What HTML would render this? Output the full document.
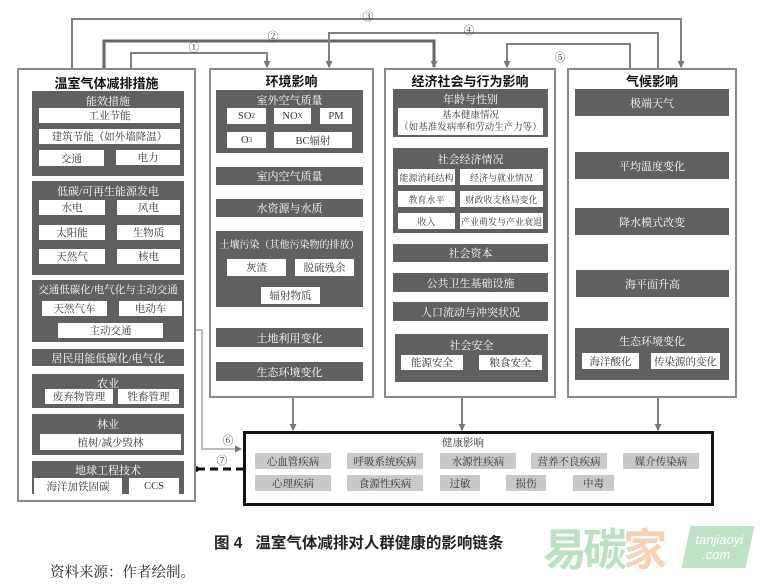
<!DOCTYPE html>
<html><head><meta charset="utf-8"><style>
body{margin:0;background:#fff;}
#c{position:relative;width:760px;height:586px;overflow:hidden;font-family:"Liberation Serif","Noto Serif CJK SC",serif;}
.a{position:absolute;box-sizing:border-box;display:flex;align-items:center;justify-content:center;text-align:center;white-space:nowrap;}
.box{border:2px solid #888;background:#fff;}
.p{background:#606060;color:#fff;font-size:11px;align-items:flex-start;padding-top:2px;}
.b{background:#606060;color:#fff;font-size:11px;}
.w{background:#fff;color:#333;font-size:10.5px;}
.g{background:#c9c9c9;color:#333;font-size:10.5px;}
.h{font-weight:bold;font-size:13px;color:#111;font-family:"Liberation Sans","Noto Sans CJK SC",sans-serif;}
.n{font-size:11px;color:#333;}
</style></head><body><div id="c">
<svg width="760" height="586" style="position:absolute;left:0;top:0">
<defs><marker id="ar" markerUnits="userSpaceOnUse" markerWidth="7" markerHeight="7" refX="6" refY="3.5" orient="auto"><path d="M0,0 L7,3.5 L0,7z" fill="#777"/></marker></defs>
<g fill="none" stroke="#808080" stroke-width="2">
<polyline points="72,68 72,19 681,19 681,67" marker-end="url(#ar)"/>
<polyline points="104,68 104,41 434,41 434,67" stroke="#666" stroke-width="3" marker-end="url(#ar)"/>
<polyline points="131,68 131,53 267,53 267,67" marker-end="url(#ar)"/>
<polyline points="658,68 658,33 329,33 329,67" marker-end="url(#ar)"/>
<polyline points="630,68 630,44 507,44 507,67" marker-end="url(#ar)"/>
<line x1="293" y1="397" x2="293" y2="430" marker-end="url(#ar)"/>
<line x1="462" y1="397" x2="462" y2="430" marker-end="url(#ar)"/>
<line x1="658" y1="397" x2="658" y2="430" marker-end="url(#ar)"/>
<polyline points="163,330 202,330 202,449 241,449" stroke="#bbb" marker-end="url(#ar)"/>
</g>
<line x1="197" y1="469" x2="243" y2="469" stroke="#111" stroke-width="3" stroke-dasharray="8,5"/>
<circle cx="196" cy="469" r="3" fill="#111"/>
</svg>
<div class="a n" style="left:186px;top:40px;width:16px;height:14px">①</div>
<div class="a n" style="left:265px;top:29px;width:16px;height:14px">②</div>
<div class="a n" style="left:360px;top:9px;width:16px;height:14px">③</div>
<div class="a n" style="left:461px;top:23px;width:16px;height:14px">④</div>
<div class="a n" style="left:552px;top:50px;width:16px;height:14px">⑤</div>
<div class="a n" style="left:220px;top:433px;width:16px;height:14px">⑥</div>
<div class="a n" style="left:214px;top:453px;width:16px;height:14px">⑦</div>

<div class="a box" style="left:17px;top:68px;width:179px;height:434px"></div>
<div class="a h" style="left:17px;top:74px;width:179px;height:16px">温室气体减排措施</div>
<div class="a p" style="left:32px;top:91px;width:152px;height:85px">能效措施</div>
<div class="a w" style="left:39px;top:108px;width:141px;height:15px">工业节能</div>
<div class="a w" style="left:39px;top:129px;width:141px;height:15px">建筑节能（如外墙降温）</div>
<div class="a w" style="left:39px;top:150px;width:65px;height:16px">交通</div>
<div class="a w" style="left:116px;top:150px;width:64px;height:15px">电力</div>
<div class="a p" style="left:32px;top:181px;width:152px;height:94px">低碳/可再生能源发电</div>
<div class="a w" style="left:39px;top:200px;width:66px;height:15px">水电</div>
<div class="a w" style="left:117px;top:200px;width:63px;height:15px">风电</div>
<div class="a w" style="left:39px;top:225px;width:66px;height:15px">太阳能</div>
<div class="a w" style="left:117px;top:225px;width:63px;height:15px">生物质</div>
<div class="a w" style="left:39px;top:249px;width:66px;height:15px">天然气</div>
<div class="a w" style="left:117px;top:249px;width:63px;height:15px">核电</div>
<div class="a p" style="left:32px;top:280px;width:152px;height:62px;font-size:10.5px">交通低碳化/电气化与主动交通</div>
<div class="a w" style="left:42px;top:301px;width:65px;height:15px">天然气车</div>
<div class="a w" style="left:119px;top:301px;width:63px;height:15px">电动车</div>
<div class="a w" style="left:58px;top:323px;width:105px;height:15px">主动交通</div>
<div class="a b" style="left:32px;top:349px;width:152px;height:17px">居民用能低碳化/电气化</div>
<div class="a p" style="left:32px;top:374px;width:152px;height:34px;padding-top:1px">农业</div>
<div class="a w" style="left:45px;top:389px;width:68px;height:15px">废弃物管理</div>
<div class="a w" style="left:118px;top:389px;width:61px;height:15px">牲畜管理</div>
<div class="a p" style="left:32px;top:414px;width:152px;height:41px">林业</div>
<div class="a w" style="left:40px;top:434px;width:141px;height:16px">植树/减少毁林</div>
<div class="a p" style="left:32px;top:461px;width:152px;height:33px;padding-top:1px">地球工程技术</div>
<div class="a w" style="left:34px;top:478px;width:88px;height:16px">海洋加铁固碳</div>
<div class="a w" style="left:129px;top:478px;width:50px;height:16px">CCS</div>

<div class="a box" style="left:209px;top:68px;width:165px;height:330px"></div>
<div class="a h" style="left:209px;top:72px;width:165px;height:16px">环境影响</div>
<div class="a p" style="left:216px;top:90px;width:147px;height:63px">室外空气质量</div>
<div class="a w" style="left:227px;top:108px;width:39px;height:16px">SO<sub style="font-size:7px">2</sub></div>
<div class="a w" style="left:274px;top:108px;width:37px;height:16px">NO<sub style="font-size:7px">X</sub></div>
<div class="a w" style="left:320px;top:108px;width:32px;height:16px">PM</div>
<div class="a w" style="left:227px;top:132px;width:39px;height:16px">O<sub style="font-size:7px">3</sub></div>
<div class="a w" style="left:274px;top:132px;width:78px;height:16px">BC辐射</div>
<div class="a b" style="left:216px;top:167px;width:147px;height:18px">室内空气质量</div>
<div class="a b" style="left:216px;top:199px;width:147px;height:18px">水资源与水质</div>
<div class="a p" style="left:216px;top:231px;width:147px;height:76px;padding-top:5px;font-size:10px">土壤污染（其他污染物的排放）</div>
<div class="a w" style="left:227px;top:259px;width:59px;height:17px">灰渣</div>
<div class="a w" style="left:295px;top:259px;width:59px;height:17px">脱硫残余</div>
<div class="a w" style="left:261px;top:287px;width:59px;height:17px">辐射物质</div>
<div class="a b" style="left:216px;top:328px;width:147px;height:19px">土地利用变化</div>
<div class="a b" style="left:216px;top:362px;width:147px;height:19px">生态环境变化</div>

<div class="a box" style="left:384px;top:68px;width:172px;height:330px"></div>
<div class="a h" style="left:384px;top:72px;width:172px;height:16px">经济社会与行为影响</div>
<div class="a p" style="left:393px;top:89px;width:155px;height:48px">年龄与性别</div>
<div class="a w" style="left:398px;top:108px;width:145px;height:27px;line-height:12px;font-size:9.5px">基本健康情况<br>（如基准发病率和劳动生产力等）</div>
<div class="a p" style="left:393px;top:148px;width:155px;height:85px;padding-top:3px">社会经济情况</div>
<div class="a w" style="left:398px;top:169px;width:57px;height:16px;font-size:9px">能源消耗结构</div>
<div class="a w" style="left:460px;top:169px;width:83px;height:16px;font-size:9px">经济与就业情况</div>
<div class="a w" style="left:398px;top:191px;width:57px;height:16px;font-size:9px">教育水平</div>
<div class="a w" style="left:460px;top:191px;width:83px;height:16px;font-size:9px">财政收支格局变化</div>
<div class="a w" style="left:398px;top:213px;width:57px;height:16px;font-size:9px">收入</div>
<div class="a w" style="left:460px;top:213px;width:83px;height:16px;font-size:9px">产业萌发与产业衰退</div>
<div class="a b" style="left:393px;top:244px;width:155px;height:18px">社会资本</div>
<div class="a b" style="left:393px;top:273px;width:155px;height:19px">公共卫生基础设施</div>
<div class="a b" style="left:393px;top:302px;width:155px;height:19px">人口流动与冲突状况</div>
<div class="a p" style="left:395px;top:334px;width:153px;height:48px;padding-top:3px">社会安全</div>
<div class="a w" style="left:401px;top:355px;width:62px;height:15px">能源安全</div>
<div class="a w" style="left:479px;top:355px;width:63px;height:15px">粮食安全</div>

<div class="a box" style="left:567px;top:68px;width:170px;height:330px"></div>
<div class="a h" style="left:567px;top:72px;width:170px;height:16px">气候影响</div>
<div class="a b" style="left:575px;top:89px;width:154px;height:27px">极端天气</div>
<div class="a b" style="left:575px;top:152px;width:154px;height:27px">平均温度变化</div>
<div class="a b" style="left:575px;top:208px;width:154px;height:27px">降水模式改变</div>
<div class="a b" style="left:576px;top:270px;width:153px;height:27px">海平面升高</div>
<div class="a p" style="left:575px;top:328px;width:154px;height:52px;padding-top:5px">生态环境变化</div>
<div class="a w" style="left:582px;top:353px;width:57px;height:16px">海洋酸化</div>
<div class="a w" style="left:651px;top:353px;width:69px;height:16px">传染源的变化</div>

<div class="a" style="left:243px;top:431px;width:471px;height:75px;border:3px solid #111"></div>
<div class="a" style="left:433px;top:435px;width:60px;height:14px;font-size:10.5px;color:#333">健康影响</div>
<div class="a g" style="left:255px;top:453px;width:76px;height:16px">心血管疾病</div>
<div class="a g" style="left:347px;top:453px;width:76px;height:16px">呼吸系统疾病</div>
<div class="a g" style="left:440px;top:453px;width:76px;height:16px">水源性疾病</div>
<div class="a g" style="left:531px;top:453px;width:76px;height:16px">营养不良疾病</div>
<div class="a g" style="left:623px;top:453px;width:76px;height:16px">媒介传染病</div>
<div class="a g" style="left:255px;top:475px;width:76px;height:16px">心理疾病</div>
<div class="a g" style="left:347px;top:475px;width:76px;height:16px">食源性疾病</div>
<div class="a g" style="left:440px;top:475px;width:40px;height:16px">过敏</div>
<div class="a g" style="left:506px;top:475px;width:40px;height:16px">损伤</div>
<div class="a g" style="left:573px;top:475px;width:41px;height:16px">中毒</div>

<div class="a" style="left:214px;top:532px;width:326px;height:20px;font-size:15.5px;font-weight:bold;color:#222;font-family:'Liberation Sans','Noto Sans CJK SC',sans-serif;justify-content:flex-start">图 4&nbsp;&nbsp;&nbsp;温室气体减排对人群健康的影响链条</div>
<div class="a" style="left:50px;top:562px;width:150px;height:18px;font-size:14.5px;color:#222;justify-content:flex-start">资料来源：作者绘制。</div>
<div class="a" style="left:543px;top:522px;width:140px;height:48px;font-size:44px;font-weight:bold;font-family:'Noto Sans CJK SC',sans-serif;letter-spacing:-4px;justify-content:flex-start"><span style="color:#b9e2c2">易碳</span><span style="color:#f6d3b7">家</span></div>
<div class="a" style="left:686px;top:526px;width:64px;height:42px;background:#bfe3c6;color:#fff;font-size:13px;line-height:15px;font-family:'Liberation Sans',sans-serif;transform:skewX(-12deg)">tanjiaoyi<br>.com</div>
</div></body></html>
